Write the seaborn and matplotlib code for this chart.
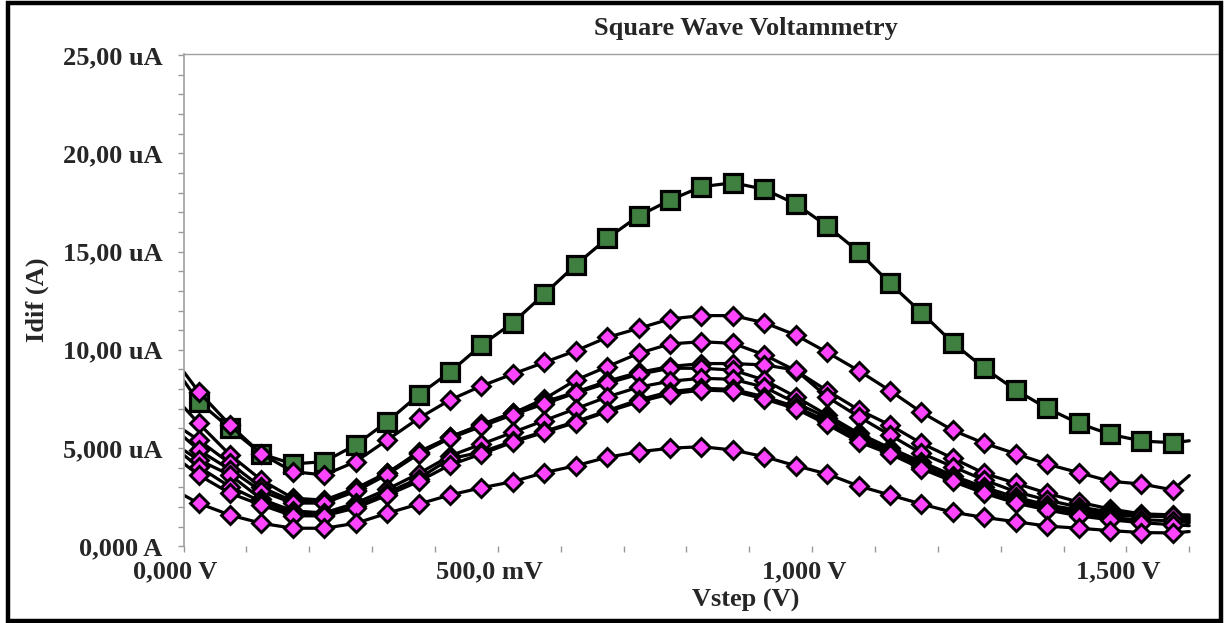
import matplotlib
matplotlib.use("Agg")
import matplotlib.pyplot as plt
from matplotlib.patches import Rectangle
from matplotlib.transforms import ScaledTranslation
import seaborn as sns
import pandas as pd

# Step potential (V): sweep start, the 32 marked samples, sweep end
VSTEP = [0.0,
         0.024, 0.074, 0.124, 0.174, 0.224, 0.274, 0.324, 0.374, 0.424, 0.474,
         0.524, 0.574, 0.624, 0.674, 0.724, 0.774, 0.824, 0.874, 0.924, 0.974,
         1.024, 1.074, 1.124, 1.174, 1.224, 1.274, 1.324, 1.374, 1.424, 1.474,
         1.524, 1.574,
         1.6]

# Differential current (uA)
REF_GREEN = [8.45,
             7.36, 6.00, 4.70, 4.19, 4.31, 5.16, 6.34, 7.70, 8.87, 10.24,
             11.38, 12.84, 14.32, 15.67, 16.81, 17.62, 18.30, 18.50, 18.17, 17.42,
             16.30, 14.99, 13.38, 11.89, 10.35, 9.06, 7.95, 7.02, 6.26, 5.70,
             5.36, 5.27,
             5.37]

RUN_1 = [8.9,
         7.87, 6.17, 4.70, 3.80, 3.63, 4.31, 5.41, 6.51, 7.45, 8.16,
         8.77, 9.36, 9.95, 10.63, 11.09, 11.57, 11.74, 11.74, 11.38, 10.75,
         9.87, 8.94, 7.92, 6.82, 5.90, 5.24, 4.71, 4.18, 3.75, 3.31,
         3.17, 2.87,
         3.6]
RUN_2 = [7.1,
         6.26, 4.65, 3.37, 2.45, 2.35, 2.95, 3.75, 4.73, 5.58, 6.17,
         6.77, 7.5, 8.46, 9.14, 9.82, 10.30, 10.41, 10.33, 9.74, 8.94,
         7.92, 6.95, 6.17, 5.24, 4.48, 3.71, 3.21, 2.70, 2.25, 1.9,
         1.65, 1.6,
         1.6]
RUN_3 = [5.92,
         5.41, 4.22, 3.0, 2.3, 2.25, 2.85, 3.71, 4.81, 5.55, 6.2,
         6.8, 7.35, 7.85, 8.4, 8.85, 9.15, 9.3, 9.3, 9.23, 8.97,
         7.6, 6.6, 5.66, 4.73, 4.05, 3.37, 2.78, 2.35, 2.0, 1.75,
         1.6, 1.55,
         1.5]
RUN_4 = [5.58,
         4.90, 3.9, 2.8, 2.2, 2.2, 2.8, 3.65, 4.7, 5.5, 6.1,
         6.7, 7.25, 7.8, 8.3, 8.75, 9.06, 9.06, 8.97, 8.46, 7.61,
         6.68, 5.75, 5.0, 4.3, 3.6, 3.0, 2.5, 2.1, 1.85, 1.65,
         1.55, 1.5,
         1.4]
RUN_5 = [4.9,
         4.4, 3.63, 2.4, 1.8, 1.7, 2.2, 2.9, 3.7, 4.6, 5.2,
         5.8, 6.4, 7.0, 7.6, 8.1, 8.4, 8.55, 8.5, 8.1, 7.3,
         6.55, 5.6, 4.9, 4.15, 3.45, 2.85, 2.35, 2.02, 1.76, 1.59,
         1.54, 1.54,
         1.3]
RUN_6 = [4.65,
         4.05, 3.03, 2.27, 1.65, 1.6, 2.05, 2.72, 3.45, 4.45, 4.8,
         5.35, 5.85, 6.35, 6.9, 7.45, 7.87, 8.04, 7.99, 7.61, 7.10,
         6.36, 5.45, 4.81, 4.05, 3.37, 2.78, 2.27, 1.95, 1.65, 1.45,
         1.35, 1.3,
         1.2]
RUN_7 = [4.22,
         3.63, 2.70, 2.1, 1.55, 1.55, 1.95, 2.6, 3.3, 4.14, 4.7,
         5.3, 5.8, 6.3, 6.85, 7.35, 7.75, 7.95, 7.9, 7.5, 7.0,
         6.2, 5.32, 4.7, 3.95, 3.3, 2.7, 2.2, 1.85, 1.55, 1.35,
         1.2, 1.1,
         1.05]
RUN_8 = [2.61,
         2.19, 1.59, 1.17, 0.92, 0.92, 1.17, 1.68, 2.15, 2.61, 2.98,
         3.29, 3.75, 4.10, 4.53, 4.81, 4.99, 5.07, 4.90, 4.56, 4.10,
         3.68, 3.07, 2.61, 2.15, 1.73, 1.47, 1.25, 1.03, 0.92, 0.80,
         0.70, 0.68,
         0.75]

PINK_RUNS = [RUN_1, RUN_2, RUN_3, RUN_4, RUN_5, RUN_6, RUN_7, RUN_8]

Y_TICKS = [0, 5, 10, 15, 20, 25]
Y_LABELS = ["0,000 A", "5,000 uA", "10,00 uA", "15,00 uA", "20,00 uA", "25,00 uA"]
X_TICKS = [0.0, 0.5, 1.0, 1.5]
X_LABELS = ["0,000 V", "500,0 mV", "1,000 V", "1,500 V"]

W, H, DPI = 1230, 623, 100
sns.set_theme(style="white")
plt.rcParams["font.family"] = ["Liberation Serif", "DejaVu Serif"]
plt.rcParams["font.weight"] = "bold"

fig = plt.figure(figsize=(W / DPI, H / DPI), dpi=DPI)
left_px, right_px, top_px, bottom_px = 183.5, 1220.0, 54.0, 546.3
ax = fig.add_axes([left_px / W, 1 - bottom_px / H,
                   (right_px - left_px) / W, (bottom_px - top_px) / H])

marks = list(range(1, 33))
green_df = pd.DataFrame({"v": VSTEP, "i": REF_GREEN})
sns.lineplot(data=green_df, x="v", y="i", ax=ax, color="black", lw=2.3,
             marker="s", markersize=12.5, markerfacecolor="#3f7f3f",
             markeredgecolor="black", markeredgewidth=2.3,
             markevery=marks, sort=False)
for run in PINK_RUNS:
    df = pd.DataFrame({"v": VSTEP, "i": run})
    sns.lineplot(data=df, x="v", y="i", ax=ax, color="black", lw=2.3,
                 marker="D", markersize=9.6, markerfacecolor="#ff44ff",
                 markeredgecolor="black", markeredgewidth=2.1,
                 markevery=marks, sort=False)

scale = (right_px - left_px) / 628.6
ax.set_xlim(0, scale)
ax.set_ylim(0, (bottom_px - top_px) / 19.65)

ax.set_yticks(Y_TICKS)
ax.set_yticklabels(Y_LABELS)
ax.set_yticks([v for v in range(1, 25) if v % 5], minor=True)
ax.set_xticks(X_TICKS)
ax.set_xticklabels(X_LABELS)
ax.set_xticks([0.1, 0.2, 0.3, 0.4, 0.6, 0.7, 0.8, 0.9,
               1.1, 1.2, 1.3, 1.4, 1.6], minor=True)

tick_kw = dict(direction="out", color="#999999", length=4, width=1.0)
ax.tick_params(axis="both", which="both", **tick_kw)
ax.tick_params(axis="y", which="both", left=True, pad=11, labelsize=19)
ax.tick_params(axis="x", which="both", bottom=True, pad=6, labelsize=19)
for lab in ax.get_yticklabels() + ax.get_xticklabels():
    lab.set_fontweight("bold")
for lab in ax.get_xticklabels():
    lab.set_transform(lab.get_transform() + ScaledTranslation(-8 / DPI, 0, fig.dpi_scale_trans))

for side in ("right", "bottom"):
    ax.spines[side].set_visible(False)
ax.spines["left"].set_color("#a0a0a0")
ax.spines["left"].set_linewidth(1.2)
ax.spines["top"].set_color("#a0a0a0")
ax.spines["top"].set_linewidth(1.0)

ax.set_xlabel("")
ax.set_ylabel("")
fig.text(746 / W, 1 - 600 / H, "Vstep (V)", ha="center", va="center",
         fontsize=19, fontweight="bold")
fig.text(37 / W, 1 - 300 / H, "Idif (A)", ha="center", va="center",
         rotation=90, fontsize=19, fontweight="bold")
fig.text(746 / W, 1 - 29 / H, "Square Wave Voltammetry", ha="center",
         va="center", fontsize=19, fontweight="bold")

fig.patches.append(Rectangle((8 / W, 2.5 / H), (1220.5 - 8) / W, (620.5 - 2.5) / H,
                             transform=fig.transFigure, fill=False,
                             edgecolor="black", linewidth=3.2))

fig.savefig("out.png", dpi=DPI)
